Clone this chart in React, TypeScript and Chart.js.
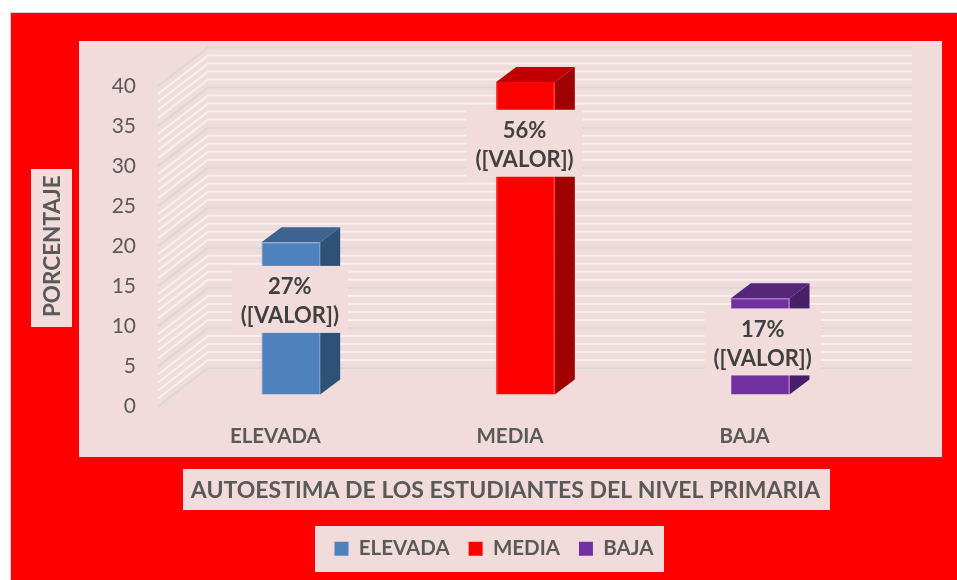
import React, { useEffect, useRef } from "react";
import { Chart, registerables } from "chart.js";

Chart.register(...registerables);

const categories = ["ELEVADA", "MEDIA", "BAJA"];
const values = [19, 39, 12];
const percentLabels = ["27%", "56%", "17%"];
const valueLabel = "([VALOR])";
const majorStep = 5;
const minorStep = 1;
const axisTitle = "PORCENTAJE";
const categoryTitle = "AUTOESTIMA DE LOS ESTUDIANTES DEL NIVEL PRIMARIA";

const frontColors = ["#4f81bd", "#ff0000", "#7030a0"];
const topColors = ["#3d6491", "#c00000", "#552679"];
const sideColors = ["#2f5077", "#a00000", "#471f68"];
const edgeColors = ["#6b97cc", "#ff0000", "#8a4bb5"];

const PANEL = "#f2dcdb";
const FONT = "Lato";
// depth of the 3D wall and of the bars, in pixels
const WALL_DX = 50, WALL_DY = -38.5;
const BAR_SHIFT_X = 15.5, BAR_SHIFT_Y = -12;
const BAR_DX = 20, BAR_DY = -15;
// manual placement of the data-label boxes relative to the bar centre
const LABEL_W = 116, LABEL_H = 67;
const labelOffsetX = [-1, -1, 2.5];
const labelOffsetY = [-19, -95, -4.5];
const LEGEND_SHIFT_X = 53;
const TITLE_SHIFT_X = -4.5;

const walls3d = {
  id: "walls3d",
  afterLayout(chart: any) {
    chart.legend.left += LEGEND_SHIFT_X;
    chart.legend.right += LEGEND_SHIFT_X;
    const xs = chart.scales.x;
    const original = xs.drawTitle;
    xs.drawTitle = function () {
      const c = this.ctx;
      c.save();
      c.translate(TITLE_SHIFT_X, 0);
      original.call(this);
      c.restore();
    };
  },
  beforeDraw(chart: any) {
    const { ctx } = chart;
    ctx.save();
    ctx.fillStyle = "#ffffff";
    ctx.fillRect(0, 0, 957, 580);
    ctx.fillStyle = "#d0d0d0";
    ctx.fillRect(10, 12, 947, 568);
    ctx.fillStyle = "#ff0000";
    ctx.fillRect(11, 13, 946, 567);
    ctx.fillStyle = PANEL;
    ctx.fillRect(79, 41, 863, 416);
    ctx.fillRect(31, 169, 41, 158);
    ctx.fillRect(183, 469, 647, 41);
    ctx.fillRect(315, 526, 349, 46);
    ctx.restore();
  },
  beforeDatasetsDraw(chart: any) {
    const { ctx, chartArea: a, scales } = chart;
    const y = scales.y;
    ctx.save();
    for (let v = y.min; v <= y.max; v += minorStep) {
      const isMajor = v % majorStep === 0;
      const py = y.getPixelForValue(v);
      ctx.beginPath();
      ctx.moveTo(a.left, py);
      ctx.lineTo(a.left + WALL_DX, py + WALL_DY);
      ctx.lineTo(a.right + WALL_DX, py + WALL_DY);
      ctx.lineWidth = 2;
      ctx.strokeStyle = isMajor ? "#d9d9d9" : "#f2f2f2";
      ctx.stroke();
    }
    ctx.restore();
  },
  beforeDatasetDraw(chart: any, args: any) {
    const { ctx } = chart;
    ctx.save();
    ctx.translate(BAR_SHIFT_X, BAR_SHIFT_Y);
    args.meta.data.forEach((bar: any, i: number) => {
      const left = bar.x - bar.width / 2;
      const right = bar.x + bar.width / 2;
      const top = bar.y;
      const bottom = bar.base;
      ctx.fillStyle = topColors[i];
      ctx.beginPath();
      ctx.moveTo(left, top);
      ctx.lineTo(left + BAR_DX, top + BAR_DY);
      ctx.lineTo(right + BAR_DX, top + BAR_DY);
      ctx.lineTo(right, top);
      ctx.closePath();
      ctx.fill();
      ctx.fillStyle = sideColors[i];
      ctx.beginPath();
      ctx.moveTo(right, top);
      ctx.lineTo(right + BAR_DX, top + BAR_DY);
      ctx.lineTo(right + BAR_DX, bottom + BAR_DY);
      ctx.lineTo(right, bottom);
      ctx.closePath();
      ctx.fill();
    });
  },
  afterDatasetDraw(chart: any) {
    chart.ctx.restore();
  },
  afterDatasetsDraw(chart: any) {
    const { ctx } = chart;
    const meta = chart.getDatasetMeta(0);
    ctx.save();
    meta.data.forEach((bar: any, i: number) => {
      const cx = bar.x + BAR_SHIFT_X + labelOffsetX[i];
      const cy = (bar.y + bar.base) / 2 + BAR_SHIFT_Y + labelOffsetY[i];
      ctx.fillStyle = PANEL;
      ctx.fillRect(cx - LABEL_W / 2, cy - LABEL_H / 2, LABEL_W, LABEL_H);
      ctx.fillStyle = "#404040";
      ctx.font = `bold 22px ${FONT}`;
      ctx.textAlign = "center";
      ctx.textBaseline = "middle";
      ctx.fillText(percentLabels[i], cx, cy - 12.5);
      ctx.fillText(valueLabel, cx, cy + 16.5);
    });
    ctx.restore();
  },
};

export default function App() {
  const ref = useRef<HTMLCanvasElement>(null);
  useEffect(() => {
    const chart = new Chart(ref.current as HTMLCanvasElement, {
      type: "bar",
      data: {
        labels: categories,
        datasets: [
          {
            data: values,
            backgroundColor: frontColors,
            borderColor: edgeColors,
            borderWidth: 1,
            categoryPercentage: 1,
            barPercentage: 0.25,
            clip: false,
          } as any,
        ],
      },
      options: {
        responsive: false,
        animation: false,
        layout: { padding: { left: 20, top: 86, right: 95, bottom: 11 } },
        plugins: {
          tooltip: { enabled: false },
          title: { display: false },
          legend: {
            position: "bottom",
            onClick: () => {},
            labels: {
              boxWidth: 14,
              boxHeight: 14,
              padding: 19,
              color: "#595959",
              font: { family: FONT, size: 20.5, weight: "bold" },
              generateLabels: (c: any) =>
                c.data.labels.map((text: string, i: number) => ({
                  text,
                  fillStyle: frontColors[i],
                  strokeStyle: frontColors[i],
                  lineWidth: 0,
                  hidden: false,
                  index: i,
                  fontColor: "#595959",
                })),
            },
          },
        },
        scales: {
          x: {
            grid: { display: false },
            border: { display: false },
            ticks: {
              color: "#595959",
              padding: 10,
              font: { family: FONT, size: 20.5, weight: "bold" },
              maxRotation: 0,
            },
            title: {
              display: true,
              text: categoryTitle,
              color: "#595959",
              font: { family: FONT, size: 23, weight: "bold" },
              padding: { top: 24, bottom: 15 },
            },
            afterFit: (s: any) => {
              s.height = 113;
            },
          },
          y: {
            min: 0,
            max: 40,
            grid: { display: false, drawTicks: false },
            border: { display: false },
            ticks: {
              stepSize: majorStep,
              padding: 22,
              color: "#595959",
              font: { family: FONT, size: 21 },
            },
            title: {
              display: true,
              text: axisTitle,
              color: "#595959",
              font: { family: FONT, size: 22.5, weight: "bold" },
              padding: { top: 19, bottom: 0 },
            },
            afterFit: (s: any) => {
              s.width = 138;
            },
          },
        },
      },
      plugins: [walls3d],
    } as any);
    return () => chart.destroy();
  }, []);
  return (
    <canvas
      ref={ref}
      width={957}
      height={580}
      style={{ position: "absolute", left: 0, top: 0, display: "block" }}
    />
  );
}
